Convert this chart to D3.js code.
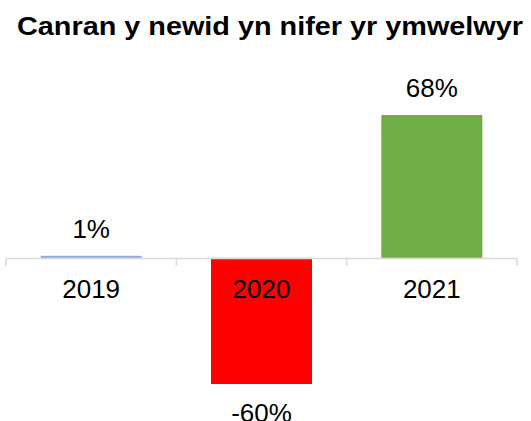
<!DOCTYPE html>
<html>
<head>
<meta charset="utf-8">
<script src="https://cdn.jsdelivr.net/npm/d3@7"></script>
<style>
  body { margin: 0; background: #fff; }
  text { font-family: "Liberation Sans", Arial, sans-serif; fill: #000; }
</style>
</head>
<body>
<div id="chart"></div>
<script>
// chart data
var years = ["2019", "2020", "2021"];
var changes = [1, -60, 68];
var barColors = ["#8FAADC", "#FF0000", "#70AD47"];
var chartTitle = "Canran y newid yn nifer yr ymwelwyr";

var svgWidth = 531;
var svgHeight = 421;

var svg = d3.select("#chart")
    .append("svg")
    .attr("width", svgWidth)
    .attr("height", svgHeight);

// title (stretched a little to the reference's width)
svg.append("text")
    .attr("x", 270)
    .attr("y", 35)
    .attr("textLength", 506)
    .attr("lengthAdjust", "spacingAndGlyphs")
    .style("text-anchor", "middle")
    .style("font-size", "25px")
    .style("font-weight", "bold")
    .text(chartTitle);

// scales
var xScale = d3.scaleBand()
    .domain(years)
    .range([6, 517])
    .paddingInner(0.407)
    .paddingOuter(0.2035);

var yScale = d3.scaleLinear()
    .domain([-60, 68])
    .range([384, 115]);

var zeroY = yScale(0);

// bars
svg.selectAll("rect.bar")
    .data(years)
    .enter()
    .append("rect")
    .attr("class", "bar")
    .attr("x", d => xScale(d))
    .attr("width", xScale.bandwidth())
    .attr("y", (d, i) => Math.min(yScale(changes[i]), zeroY))
    .attr("height", (d, i) => Math.abs(yScale(changes[i]) - zeroY))
    .style("fill", (d, i) => barColors[i]);

// axis line with tick marks between categories
var step = xScale.step();
var boundaries = d3.range(years.length + 1).map(i => 6 + i * step);
svg.append("line")
    .attr("x1", 6)
    .attr("x2", 517)
    .attr("y1", zeroY + 0.5)
    .attr("y2", zeroY + 0.5)
    .style("stroke", "#d9d9d9")
    .style("stroke-width", 1.5);
svg.selectAll("line.tick")
    .data(boundaries)
    .enter()
    .append("line")
    .attr("class", "tick")
    .attr("x1", d => d)
    .attr("x2", d => d)
    .attr("y1", zeroY)
    .attr("y2", zeroY + 8)
    .style("stroke", "#d9d9d9")
    .style("stroke-width", 1.5);

// category labels
svg.selectAll("text.year")
    .data(years)
    .enter()
    .append("text")
    .attr("class", "year")
    .attr("x", d => xScale(d) + xScale.bandwidth() / 2)
    .attr("y", 298)
    .style("text-anchor", "middle")
    .style("font-size", "26px")
    .text(d => d);

// value labels
svg.selectAll("text.value")
    .data(years)
    .enter()
    .append("text")
    .attr("class", "value")
    .attr("x", d => xScale(d) + xScale.bandwidth() / 2)
    .attr("y", (d, i) => changes[i] >= 0 ? yScale(changes[i]) - 18 : yScale(changes[i]) + 38)
    .style("text-anchor", "middle")
    .style("font-size", "26px")
    .text((d, i) => changes[i] + "%");
</script>
</body>
</html>
